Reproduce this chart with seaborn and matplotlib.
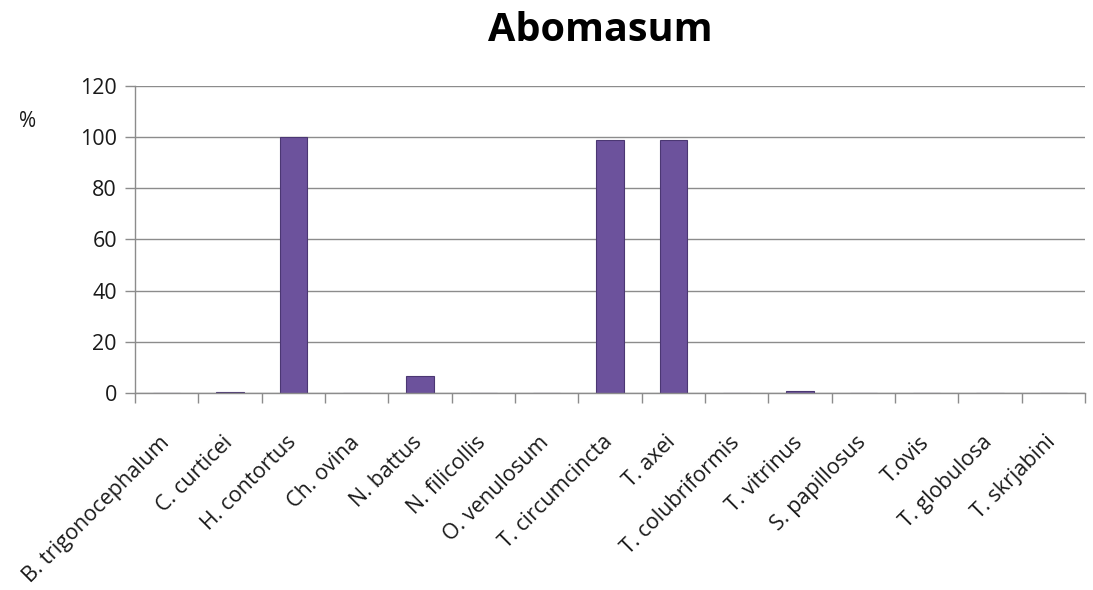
import numpy as np
import pandas as pd
import matplotlib
matplotlib.use("Agg")
import matplotlib.pyplot as plt
import matplotlib.transforms as mtransforms
import seaborn as sns

species = ["B. trigonocephalum", "C. curticei", "H. contortus", "Ch. ovina",
           "N. battus", "N. filicollis", "O. venulosum", "T. circumcincta",
           "T. axei", "T. colubriformis", "T. vitrinus", "S. papillosus",
           "T.ovis", "T. globulosa", "T. skrjabini"]
percent = [0, 0.4, 100, 0, 6.5, 0, 0, 99, 99, 0, 0.9, 0, 0, 0, 0]
yticks = [0, 20, 40, 60, 80, 100, 120]

sns.set_style("white")
plt.rcParams["font.family"] = ["Open Sans", "DejaVu Sans"]

df = pd.DataFrame({"species": species, "percent": percent})

fig = plt.figure(figsize=(10.93, 5.9), dpi=100)
ax = fig.add_axes([0.1235, 0.334, 0.8692, 0.5203])

sns.barplot(data=df, x="species", y="percent", ax=ax, width=0.43,
            color="#6c529c", edgecolor="#4b3773", linewidth=0.8,
            saturation=1)

ax.set_ylim(0, 120)
ax.set_yticks(yticks)
ax.set_xlim(-0.5, len(species) - 0.5)
ax.yaxis.grid(True, color="#8c8c8c", linewidth=1)
ax.set_axisbelow(True)
for s in ["top", "right"]:
    ax.spines[s].set_visible(False)
for s in ["left", "bottom"]:
    ax.spines[s].set_color("#8c8c8c")
    ax.spines[s].set_linewidth(1)

# ticks between categories on x
ax.set_xticks(np.arange(len(species)))
ax.set_xticklabels(species, rotation=45, ha="right", rotation_mode="anchor",
                   fontsize=15.5, color="#1a1a1a")
ax.set_xticks(np.arange(len(species) + 1) - 0.5, minor=True)
ax.tick_params(axis="x", which="major", bottom=True, length=0, pad=28)
ax.tick_params(axis="x", which="minor", bottom=True, length=7,
               color="#8c8c8c", width=1)
ax.tick_params(axis="y", left=True, length=7, color="#8c8c8c", width=1,
               labelsize=15.5, labelcolor="#1a1a1a", pad=6)
ax.set_xlabel("")
ax.set_ylabel("")

shift = mtransforms.ScaledTranslation(-8 / 100, 0, fig.dpi_scale_trans)
for lbl in ax.get_xticklabels():
    lbl.set_transform(lbl.get_transform() + shift)

fig.text(0.017, 0.785, "%", fontsize=15, color="#1a1a1a")
fig.text(0.549, 0.949, "Abomasum", fontsize=28.5, fontweight="bold",
         ha="center", va="center", color="black")

fig.savefig("out.png", dpi=100)
